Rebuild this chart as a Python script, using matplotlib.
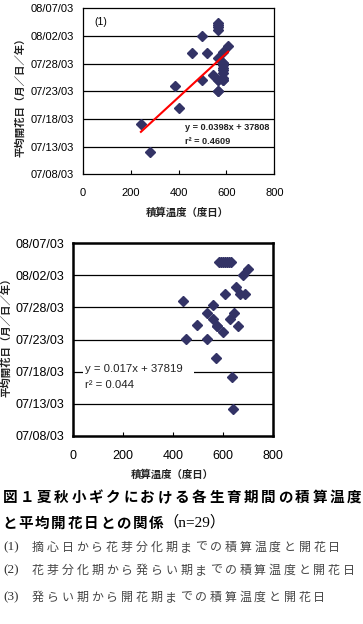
import datetime as dt

import matplotlib

matplotlib.use("Agg")
import matplotlib.pyplot as plt
import numpy as np
from matplotlib.patches import Rectangle

# ------------------------------------------------
# Data (y = Excel date serial)
# ------------------------------------------------
x1 = [243, 282, 384, 402, 458, 498, 498, 521, 542, 565, 565, 565, 565, 565, 565,
      565, 586, 586, 586, 586, 586, 586, 586, 586, 607, 565, 586, 565, 586]
y1 = [37819.0, 37814.0, 37825.9, 37822.0, 37832.0, 37835.0, 37827.0, 37832.0,
      37828.0, 37837.0, 37836.6, 37836.0, 37831.0, 37827.1, 37827.0, 37825.0,
      37832.1, 37830.1, 37829.7, 37829.2, 37828.8, 37828.3, 37827.4, 37827.0,
      37833.1, 37837.3, 37830.1, 37825.0, 37827.0]

x2 = [585, 601, 617, 631, 678, 700, 650, 607, 667, 687, 438, 558, 537, 643, 558,
      627, 497, 577, 660, 600, 451, 534, 571, 634, 641, 593, 609, 624, 577]
y2 = [37837.05, 37837.05, 37837.05, 37837.05, 37835.07, 37836.0, 37833.15,
      37832.1, 37832.1, 37832.1, 37831.06, 37830.4, 37829.1, 37829.2, 37828.2,
      37828.2, 37827.3, 37827.1, 37827.1, 37826.1, 37825.04, 37825.04, 37822.1,
      37819.1, 37814.2, 37837.05, 37837.05, 37837.05, 37827.1]

# regression shown on chart (1)
slope1, icpt1 = 0.0398, 37808
eq1 = ["y = 0.0398x + 37808", "r² = 0.4609"]
eq2 = ["y = 0.017x + 37819", "r² = 0.044"]

y_ticks = np.arange(37810, 37841, 5)
x_ticks = [0, 200, 400, 600, 800]

ylabel = "平均開花日（月／日／年）"
xlabel = "積算温度（度日）"
cap1 = "図１夏秋小ギクにおける各生育期間の積算温度"
cap2 = "と平均開花日との関係"
cap_n = "（n=29）"
items = [("(1)", "摘心日から花芽分化期までの積算温度と開花日"),
         ("(2)", "花芽分化期から発らい期までの積算温度と開花日"),
         ("(3)", "発らい期から開花期までの積算温度と開花日")]


def serial_to_str(v):
    d = dt.datetime(1899, 12, 30) + dt.timedelta(days=int(v))
    return d.strftime("%m/%d/%y")


W, H = 363, 624
CJK = ["Noto Sans CJK JP", "DejaVu Sans"]
SANS = ["Liberation Sans", "DejaVu Sans"]
SERIF = ["Liberation Serif", "Noto Sans CJK JP"]
mk = "#333366"

fig = plt.figure(figsize=(W / 100, H / 100), dpi=100)


def px_axes(left, top, right, bottom):
    return fig.add_axes([left / W, 1 - bottom / H, (right - left) / W, (bottom - top) / H])


def setup(ax, fs, lw):
    ax.set_xlim(0, 800)
    ax.set_ylim(37810, 37840)
    ax.set_yticks(y_ticks)
    ax.set_yticklabels([serial_to_str(v) for v in y_ticks], family=SANS, fontsize=fs)
    ax.set_xticks(x_ticks)
    ax.set_xticklabels([str(v) for v in x_ticks], family=SANS, fontsize=fs)
    ax.tick_params(axis="y", length=0, pad=6)
    ax.tick_params(axis="x", direction="in", length=3, pad=10, width=0.8)
    for v in y_ticks[1:-1]:
        ax.axhline(v, color="black", lw=0.9, zorder=1)
    for s in ax.spines.values():
        s.set_linewidth(lw)


# ---- chart (1)
ax1 = px_axes(82.7, 8.3, 274.3, 174.3)
setup(ax1, 8, 0.9)
ax1.plot(x1, y1, "D", color=mk, markersize=5, zorder=3)
xl = np.array([min(x1), max(x1)])
ax1.plot(xl, slope1 * xl + icpt1, color="red", lw=1.5, zorder=4)
ax1.text(0.06, 0.919, "(1)", transform=ax1.transAxes, family=SANS, fontsize=7.5, va="center")
ax1.text(0.534, 0.283, eq1[0], transform=ax1.transAxes, family=SANS, fontsize=6.6,
         fontweight="bold", va="center", color="#222222", zorder=5)
ax1.text(0.534, 0.196, eq1[1], transform=ax1.transAxes, family=SANS, fontsize=6.6,
         fontweight="bold", va="center", color="#222222", zorder=5)

# ---- chart (2)
ax2 = px_axes(72.7, 243.3, 273.3, 435.7)
setup(ax2, 9, 1.8)
ax2.plot(x2, y2, "D", color=mk, markersize=5.5, zorder=3)
ax2.add_patch(Rectangle((0.051, 0.21), 0.553, 0.19, transform=ax2.transAxes,
                        facecolor="white", edgecolor="none", zorder=2))
ax2.text(0.061, 0.347, eq2[0], transform=ax2.transAxes, family=SANS, fontsize=8.2,
         va="center", color="#222222", zorder=5)
ax2.text(0.061, 0.263, eq2[1], transform=ax2.transAxes, family=SANS, fontsize=8.2,
         va="center", color="#222222", zorder=5)

# axis titles
lab = dict(family=CJK, fontsize=7.5, fontweight="bold", color="#222222",
           ha="center", va="center")
fig.text(20 / W, 1 - 94.5 / H, ylabel, rotation=90, **lab)
fig.text(187 / W, 1 - 213 / H, xlabel, **lab)
fig.text(6 / W, 1 - 335 / H, ylabel, rotation=90, **lab)
fig.text(172 / W, 1 - 475 / H, xlabel, **lab)


# ---- caption, drawn char by char to get the wide spacing
def spaced(x0, y, s, pitch, **kw):
    for i, ch in enumerate(s):
        fig.text((x0 + i * pitch) / W, 1 - y / H, ch, ha="center", va="center", **kw)


spaced(10, 496.7, cap1, 17.2, family=CJK, fontsize=10.5, fontweight="bold", color="black")
spaced(9.5, 522.7, cap2, 16.3, family=CJK, fontsize=10.5, fontweight="bold", color="black")
fig.text(163 / W, 1 - 522.7 / H, cap_n, family=SERIF, fontsize=11, va="center", color="black")
for (num, txt), y in zip(items, [547.7, 570.3, 597.3]):
    fig.text(3 / W, 1 - y / H, num, family=SERIF, fontsize=9.5, va="center", color="#333333")
    spaced(38, y, txt, 14.8, family=CJK, fontsize=8.6, color="#444444")

fig.savefig("out.png", dpi=100)
